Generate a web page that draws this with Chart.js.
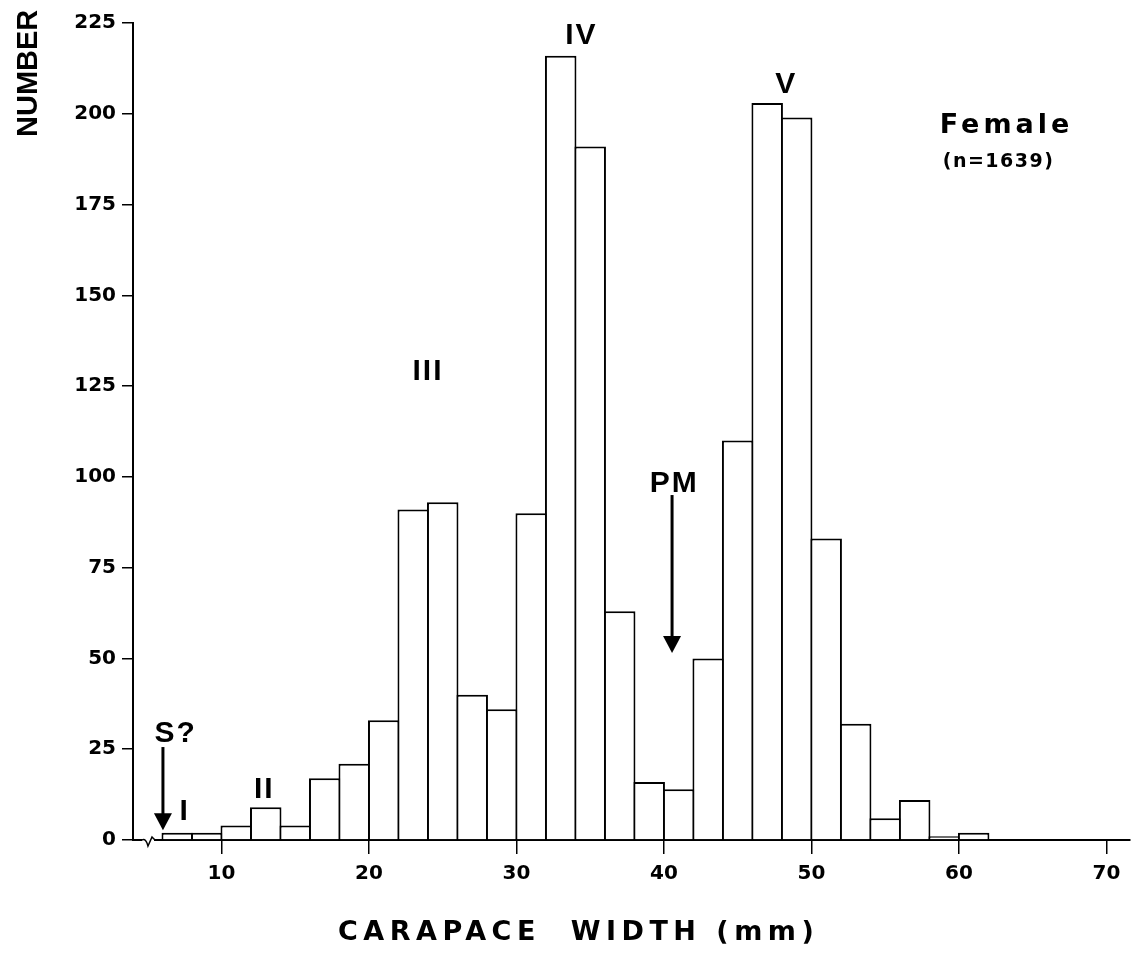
<!DOCTYPE html>
<html>
<head>
<meta charset="utf-8">
<script src="https://cdn.jsdelivr.net/npm/chart.js@4/dist/chart.umd.min.js"></script>
<style>
    html, body { margin: 0; padding: 0; background: #fff; }
    #wrap { width: 1135px; height: 956px; }
</style>
</head>
<body>
<div id="wrap"><canvas id="widthChart" width="1135" height="956"></canvas></div>
<script>
// size classes (mm), lower edge of each 2 mm bin
const binStart = [6, 8, 10, 12, 14, 16, 18, 20, 22, 24, 26, 28, 30, 32,
    34, 36, 38, 40, 42, 44, 46, 48, 50, 52, 54, 56, 58, 60];
// number of females per bin
const counts = [2, 2, 4, 9, 4, 17, 21, 33, 91, 93, 40, 36, 90, 216,
    191, 63, 16, 14, 50, 110, 203, 199, 83, 32, 6, 11, 1, 2];
const binWidth = 2;

const xTicks = [10, 20, 30, 40, 50, 60, 70];
const yTicks = [0, 25, 50, 75, 100, 125, 150, 175, 200, 225];

const tickFont = { family: 'DejaVu Sans', weight: 'bold', size: 20 };
const labelFont = 'bold 30px "Liberation Sans"';

// instar labels and arrows, anchored in data units
const instarLabels = [
    { text: 'I', x: 7.5, y: 5.5 },
    { text: 'II', x: 12.9, y: 11.6 },
    { text: 'III', x: 24.0, y: 126.7 },
    { text: 'IV', x: 34.4, y: 219.2 },
    { text: 'V', x: 48.3, y: 205.7 },
    { text: 'S?', x: 6.9, y: 27.0 },
    { text: 'PM', x: 40.7, y: 95.8 }
];
const arrows = [
    { x: 6.03, from: 25.6, to: 2.7 },
    { x: 40.55, from: 95.0, to: 51.5 }
];

function drawArrow(ctx, px, y1, y2) {
    ctx.save();
    ctx.strokeStyle = '#000';
    ctx.fillStyle = '#000';
    ctx.lineWidth = 3;
    ctx.beginPath();
    ctx.moveTo(px, y1);
    ctx.lineTo(px, y2 - 14);
    ctx.stroke();
    ctx.beginPath();
    ctx.moveTo(px - 9, y2 - 17);
    ctx.lineTo(px + 9, y2 - 17);
    ctx.lineTo(px, y2);
    ctx.closePath();
    ctx.fill();
    ctx.restore();
}

const annotationPlugin = {
    id: 'annotations',
    afterDraw(chart) {
        const ctx = chart.ctx;
        const xs = chart.scales.x;
        const ys = chart.scales.y;
        const area = chart.chartArea;

        ctx.save();
        ctx.fillStyle = '#000';
        ctx.textBaseline = 'alphabetic';

        // roman numerals, S? and PM
        ctx.font = labelFont;
        ctx.textAlign = 'center';
        ctx.letterSpacing = '2px';
        instarLabels.forEach(l => {
            ctx.fillText(l.text, xs.getPixelForValue(l.x), ys.getPixelForValue(l.y));
        });
        arrows.forEach(a => {
            drawArrow(ctx, xs.getPixelForValue(a.x), ys.getPixelForValue(a.from), ys.getPixelForValue(a.to));
        });

        // legend text
        ctx.textAlign = 'left';
        ctx.font = 'bold 27px "DejaVu Sans"';
        ctx.letterSpacing = '4px';
        ctx.fillText('Female', xs.getPixelForValue(58.7), ys.getPixelForValue(194.7));
        ctx.font = 'bold 19px "DejaVu Sans"';
        ctx.letterSpacing = '1.5px';
        ctx.fillText('(n=1639)', xs.getPixelForValue(58.9), ys.getPixelForValue(185.3));

        // axis titles
        ctx.font = 'bold 27px "DejaVu Sans"';
        ctx.letterSpacing = '5.5px';
        ctx.fillText('CARAPACE  WIDTH (mm)', 338, 940);

        ctx.save();
        ctx.translate(37, 137);
        ctx.rotate(-Math.PI / 2);
        ctx.font = 'bold 29px "Liberation Sans"';
        ctx.letterSpacing = '0px';
        ctx.fillText('NUMBER', 0, 0);
        ctx.restore();

        // axis break on the x axis
        const yb = area.bottom;
        ctx.fillStyle = '#fff';
        ctx.fillRect(area.left + 9, yb - 3, 12, 6);
        ctx.strokeStyle = '#000';
        ctx.lineWidth = 1.5;
        ctx.beginPath();
        ctx.moveTo(area.left + 9, yb);
        ctx.quadraticCurveTo(area.left + 13, yb - 2, area.left + 15, yb + 6);
        ctx.lineTo(area.left + 19, yb - 3);
        ctx.lineTo(area.left + 22, yb);
        ctx.stroke();
        ctx.restore();
    }
};

function drawChart() {
    const points = binStart.map((s, i) => ({ x: s + binWidth / 2, y: counts[i] }));
    const ctx = document.getElementById('widthChart').getContext('2d');

    new Chart(ctx, {
        type: 'bar',
        data: {
            datasets: [{
                label: 'Female',
                data: points,
                backgroundColor: '#fff',
                borderColor: '#000',
                borderWidth: 2,
                borderSkipped: 'bottom',
                // slight overlap so neighbouring bars share one edge line
                barPercentage: 1.068,
                categoryPercentage: 1
            }]
        },
        plugins: [annotationPlugin],
        options: {
            responsive: false,
            animation: false,
            layout: { padding: { top: 23, right: 5, left: 0, bottom: 0 } },
            plugins: {
                legend: { display: false },
                title: { display: false },
                tooltip: { enabled: false }
            },
            scales: {
                x: {
                    type: 'linear',
                    offset: false,
                    min: 4,
                    max: 71.6,
                    afterBuildTicks: scale => {
                        scale.ticks = xTicks.map(v => ({ value: v }));
                    },
                    afterFit: scale => { scale.height = 116; },
                    grid: {
                        offset: false,
                        drawOnChartArea: false,
                        drawTicks: true,
                        tickLength: 14,
                        color: '#000',
                        lineWidth: 1.5
                    },
                    border: { display: true, color: '#000', width: 2 },
                    ticks: {
                        color: '#000',
                        font: tickFont,
                        padding: 8,
                        maxRotation: 0
                    }
                },
                y: {
                    min: 0,
                    max: 225,
                    afterBuildTicks: scale => {
                        scale.ticks = yTicks.map(v => ({ value: v }));
                    },
                    afterFit: scale => { scale.width = 133; },
                    grid: {
                        drawOnChartArea: false,
                        drawTicks: true,
                        tickLength: 11,
                        color: '#000',
                        lineWidth: 1.5
                    },
                    border: { display: true, color: '#000', width: 2 },
                    ticks: {
                        color: '#000',
                        font: tickFont,
                        padding: 6
                    }
                }
            }
        }
    });
}

drawChart();
</script>
</body>
</html>
